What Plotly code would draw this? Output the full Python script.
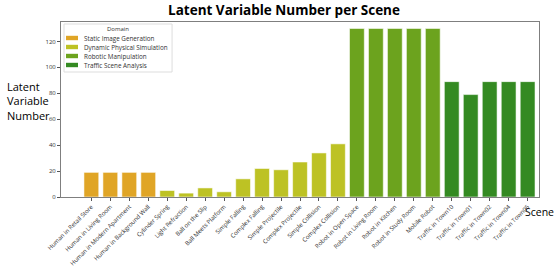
import plotly.graph_objects as go

domains = ["Static Image Generation", "Dynamic Physical Simulation", "Robotic Manipulation", "Traffic Scene Analysis"]
colors = ["#E0A526", "#BDC224", "#6CA31E", "#348A22"]

static_scenes = ["Human in Retail Store", "Human in Living Room", "Human in Modern Apartment", "Human in Background Wall"]
static_vals = [19, 19, 19, 19]

dynamic_scenes = ["Cylinder Spring", "Light Refraction", "Ball on the Slip", "Ball Meets Platform", "Simple Falling",
                  "Complex Falling", "Simple Projectile", "Complex Projectile", "Simple Collision", "Complex Collision"]
dynamic_vals = [5, 3, 7, 4, 14, 22, 21, 27, 34, 41]

robot_scenes = ["Robot in Open Space", "Robot in Living Room", "Robot in Kitchen", "Robot in Study Room", "Mobile Robot"]
robot_vals = [130, 130, 130, 130, 130]

traffic_scenes = ["Traffic in Town10", "Traffic in Town01", "Traffic in Town02", "Traffic in Town04", "Traffic in Town05"]
traffic_vals = [89, 79, 89, 89, 89]

groups = [(static_scenes, static_vals), (dynamic_scenes, dynamic_vals), (robot_scenes, robot_vals), (traffic_scenes, traffic_vals)]
all_scenes = static_scenes + dynamic_scenes + robot_scenes + traffic_scenes

W, H = 555, 268
L_, R_, T_, B_ = 61, 538.7, 22, 197  # plot-area edges in pixels
ML, MT = L_, T_
MR = W - R_
MB = H - B_
PW, PH = R_ - L_, B_ - T_

def px(x):
    return (x - L_) / PW

def py(y):
    return (B_ - y) / PH

fig = go.Figure()
for name, col, (xs, ys) in zip(domains, colors, groups):
    fig.add_trace(go.Bar(x=xs, y=ys, name=name, showlegend=False,
                         marker=dict(color=col, line=dict(color="rgba(255,255,255,0.55)", width=1)),
                         width=0.78))

shapes = []
annotations = []
# compact legend
shapes.append(dict(type="rect", xref="paper", yref="paper", x0=px(64), x1=px(172), y0=py(72), y1=py(24),
                   line=dict(color="#dddddd", width=1), fillcolor="rgba(255,255,255,0.9)", layer="above"))
annotations.append(dict(text="Domain", xref="paper", yref="paper", x=px(118), y=py(29.5), xanchor="center",
                        yanchor="middle", showarrow=False, font=dict(size=6, color="#333333")))
for i, (name, col) in enumerate(zip(domains, colors)):
    yc = 38 + i * 9
    shapes.append(dict(type="rect", xref="paper", yref="paper", x0=px(66), x1=px(78), y0=py(yc + 2.2), y1=py(yc - 2.2),
                       line=dict(width=0), fillcolor=col, layer="above"))
    annotations.append(dict(text=name, xref="paper", yref="paper", x=px(82), y=py(yc), xanchor="left",
                            yanchor="middle", showarrow=False, font=dict(size=6.3, color="#333333")))

annotations.append(dict(text="Latent<br>Variable<br>Number", xref="paper", yref="paper", x=px(29), y=py(77),
                        xanchor="center", yanchor="top", showarrow=False, align="left",
                        font=dict(size=11, color="black", family="Open Sans, sans-serif")))
annotations.append(dict(text="Scene", xref="paper", yref="paper", x=px(539), y=py(212), xanchor="center",
                        yanchor="middle", showarrow=False, font=dict(size=10.5, color="black", family="Open Sans, sans-serif")))

axis_line = "#7f7f7f"
fig.update_layout(
    width=W, height=H,
    margin=dict(l=ML, r=MR, t=MT, b=MB, autoexpand=False),
    paper_bgcolor="white", plot_bgcolor="white",
    barmode="overlay",
    font=dict(family="Open Sans, DejaVu Sans, sans-serif", color="#333333"),
    title=dict(text="<b>Latent Variable Number per Scene</b>", x=284 / W, xanchor="center",
               y=1 - 10.5 / H, yanchor="middle",
               font=dict(size=13.5, color="black", family="Open Sans, sans-serif")),
    showlegend=False,
    xaxis=dict(type="category", categoryorder="array", categoryarray=all_scenes, range=[-1.6, 23.6],
               tickangle=-45, tickfont=dict(size=6, color="#333333"), showline=True, linecolor=axis_line,
               linewidth=1, mirror=True, ticks="outside", ticklen=3, tickcolor="#555555", showgrid=False,
               automargin=False),
    yaxis=dict(range=[0, 135], tickvals=[0, 20, 40, 60, 80, 100, 120], tickfont=dict(size=6, color="#333333"),
               showline=True, linecolor=axis_line, linewidth=1, mirror=True, ticks="outside", ticklen=3,
               tickcolor="#555555", showgrid=False, zeroline=False, automargin=False),
    shapes=shapes,
    annotations=annotations,
)

fig.write_html("out.html", config={"displayModeBar": False},
               post_script="document.body.style.margin='0';document.body.style.overflow='hidden';")
